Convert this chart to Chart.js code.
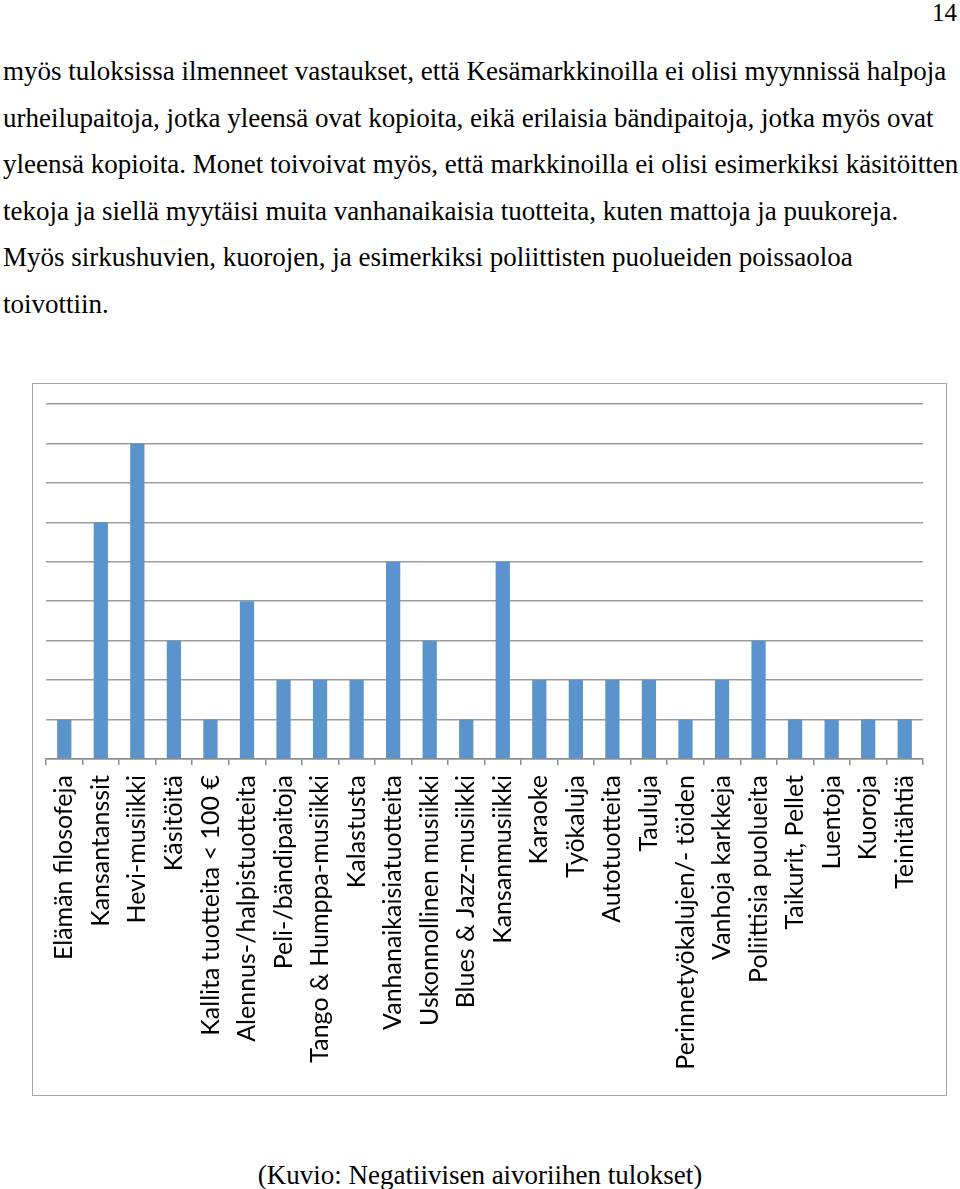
<!DOCTYPE html>
<html>
<head>
<meta charset="utf-8">
<script src="https://cdn.jsdelivr.net/npm/chart.js@4"></script>
<style>
  body { margin: 0; background: #fff; }
  #page { position: relative; width: 960px; height: 1189px; overflow: hidden; font-family: "Liberation Serif", "Times New Roman", serif; color: #000; }
  .num { position: absolute; right: 3px; top: 0px; font-size: 25px; line-height: 25px; }
  #text { position: absolute; left: 3px; top: 48px; font-size: 27px; line-height: 46.6px; }
  .j { text-align: justify; text-align-last: justify; white-space: nowrap; }
  .l { white-space: nowrap; }
  #box { position: absolute; left: 32px; top: 383px; width: 915px; height: 713px; box-sizing: border-box; border: 1px solid #a6a6a6; }
  #caption { position: absolute; left: 0; width: 960px; top: 1160px; text-align: center; font-size: 27px; line-height: 30px; }
</style>
</head>
<body>
<div id="page">
  <div class="num">14</div>
  <div id="text">
    <div class="j" style="width:942px">myös tuloksissa ilmenneet vastaukset, että Kesämarkkinoilla ei olisi myynnissä halpoja</div>
    <div class="j" style="width:929px">urheilupaitoja, jotka yleensä ovat kopioita, eikä erilaisia bändipaitoja, jotka myös ovat</div>
    <div class="j" style="width:952px">yleensä kopioita. Monet toivoivat myös, että markkinoilla ei olisi esimerkiksi käsitöitten</div>
    <div class="l">tekoja ja siellä myytäisi muita vanhanaikaisia tuotteita, kuten mattoja ja puukoreja.</div>
    <div class="l">Myös sirkushuvien, kuorojen, ja esimerkiksi poliittisten puolueiden poissaoloa</div>
    <div class="l">toivottiin.</div>
  </div>
  <div id="box"><canvas id="graph"></canvas></div>
  <div id="caption">(Kuvio: Negatiivisen aivoriihen tulokset)</div>
</div>
<script>
let categories = [
    "Elämän filosofeja", "Kansantanssit", "Hevi-musiikki", "Käsitöitä",
    "Kallita tuotteita < 100 €", "Alennus-/halpistuotteita", "Peli-/bändipaitoja",
    "Tango & Humppa-musiikki", "Kalastusta", "Vanhanaikaisiatuotteita",
    "Uskonnollinen musiikki", "Blues & Jazz-musiikki", "Kansanmusiikki", "Karaoke",
    "Työkaluja", "Autotuotteita", "Tauluja", "Perinnetyökalujen/- töiden",
    "Vanhoja karkkeja", "Poliittisia puolueita", "Taikurit, Pellet", "Luentoja",
    "Kuoroja", "Teinitähtiä"
];
let answers = [1, 6, 8, 3, 1, 4, 2, 2, 2, 5, 3, 1, 5, 2, 2, 2, 2, 1, 2, 3, 1, 1, 1, 1];
let yMax = 9;

const data = {
    labels: categories,
    datasets: [{
        data: answers,
        backgroundColor: '#5b93cc',
        barPercentage: 0.39,
        categoryPercentage: 1
    }]
};

const config = {
    type: 'bar',
    data: data,
    options: {
        responsive: true,
        maintainAspectRatio: false,
        animation: false,
        layout: { padding: { left: 13, right: 23, top: 20, bottom: 0 } },
        plugins: { legend: { display: false }, tooltip: { enabled: false } },
        scales: {
            x: {
                grid: { drawOnChartArea: false, tickLength: 6, color: '#8c8c8c', lineWidth: 1.5 },
                border: { color: '#8c8c8c', width: 1.5 },
                ticks: {
                    autoSkip: false, maxRotation: 90, minRotation: 90, padding: 10,
                    color: '#000', font: { family: 'Lato', size: 25 }
                },
                afterFit: (scale) => { scale.height = 336; }
            },
            y: {
                min: 0, max: yMax,
                grid: { color: '#9c9c9c', lineWidth: 1.5, drawTicks: false },
                border: { display: false },
                ticks: { display: false, stepSize: 1 },
                afterFit: (scale) => { scale.width = 0; }
            }
        }
    }
};

let myChart = new Chart(document.getElementById('graph'), config);
</script>
</body>
</html>
